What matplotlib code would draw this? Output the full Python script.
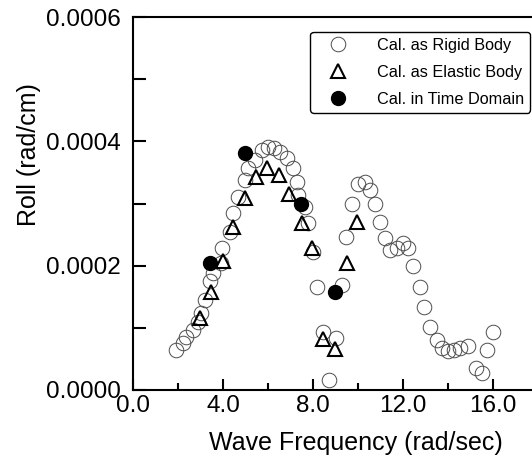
import numpy as np
import matplotlib.pyplot as plt
from matplotlib.ticker import MultipleLocator, FormatStrFormatter

plt.rcParams['font.family'] = ['Liberation Sans', 'DejaVu Sans']

# Cal. as Rigid Body (open circles)
rigid_x = [1.93, 2.22, 2.36, 2.67, 2.89, 3.03, 3.2, 3.4, 3.56, 3.9, 3.96, 4.31, 4.45,
           4.67, 4.98, 5.11, 5.42, 5.73, 6.0, 6.27, 6.53, 6.84, 7.11, 7.29, 7.33, 7.64,
           7.78, 8.0, 8.16, 8.46, 8.73, 9.0, 9.27, 9.47, 9.72, 10.01, 10.31, 10.53,
           10.76, 10.98, 11.2, 11.42, 11.72, 12.0, 12.22, 12.46, 12.73, 12.93, 13.2,
           13.5, 13.72, 14.01, 14.24, 14.53, 14.9, 15.24, 15.5, 15.72, 15.99]
rigid_y = [6.4e-5, 7.6e-5, 8.5e-5, 9.7e-5, 1.09e-4, 1.24e-4, 1.45e-4, 1.75e-4, 1.88e-4,
           2.04e-4, 2.28e-4, 2.54e-4, 2.85e-4, 3.11e-4, 3.38e-4, 3.57e-4, 3.70e-4,
           3.86e-4, 3.91e-4, 3.89e-4, 3.83e-4, 3.73e-4, 3.57e-4, 3.35e-4, 3.14e-4,
           2.94e-4, 2.69e-4, 2.22e-4, 1.65e-4, 9.4e-5, 1.6e-5, 8.3e-5, 1.69e-4, 2.46e-4,
           3.0e-4, 3.32e-4, 3.35e-4, 3.22e-4, 2.99e-4, 2.71e-4, 2.44e-4, 2.25e-4,
           2.28e-4, 2.36e-4, 2.28e-4, 2.0e-4, 1.65e-4, 1.33e-4, 1.02e-4, 8.0e-5,
           6.7e-5, 6.2e-5, 6.4e-5, 6.7e-5, 7.0e-5, 3.5e-5, 2.7e-5, 6.4e-5, 9.4e-5]

# Cal. as Elastic Body (open triangles)
elastic_x = [2.96, 3.45, 4.0, 4.45, 4.98, 5.47, 5.94, 6.49, 6.93, 7.5, 7.96, 8.46, 8.98,
             9.5, 9.96]
elastic_y = [1.15e-4, 1.58e-4, 2.07e-4, 2.62e-4, 3.09e-4, 3.43e-4, 3.57e-4, 3.46e-4,
             3.15e-4, 2.69e-4, 2.29e-4, 8.2e-5, 6.6e-5, 2.04e-4, 2.71e-4]

# Cal. in Time Domain (filled circles)
time_x = [3.44, 4.98, 7.47, 8.98]
time_y = [2.05e-4, 3.81e-4, 3.0e-4, 1.58e-4]

fig = plt.figure(figsize=(5.32, 4.62), dpi=100)
ax = fig.add_axes([0.25, 0.156, 0.77, 0.807])

ax.plot(rigid_x, rigid_y, 'o', ms=10.5, mfc='none', mec='0.3', mew=0.7,
        label='Cal. as Rigid Body')
ax.plot(elastic_x, elastic_y, '^', ms=9.5, mfc='none', mec='black', mew=1.5,
        label='Cal. as Elastic Body')
ax.plot(time_x, time_y, 'o', ms=10, mfc='black', mec='black',
        label='Cal. in Time Domain')

ax.set_xlim(0, 18.2)
ax.set_ylim(0, 0.0006)
ax.xaxis.set_major_locator(MultipleLocator(4))
ax.xaxis.set_minor_locator(MultipleLocator(2))
ax.yaxis.set_major_locator(MultipleLocator(0.0002))
ax.yaxis.set_minor_locator(MultipleLocator(0.0001))
ax.xaxis.set_major_formatter(FormatStrFormatter('%.1f'))
ax.yaxis.set_major_formatter(FormatStrFormatter('%.4f'))

ax.tick_params(axis='y', which='both', direction='in', length=9, width=1.5,
               labelsize=17.5, pad=9, right=False)
ax.tick_params(axis='x', which='major', direction='in', length=8, width=1.5,
               labelsize=17.5, pad=4, top=False)
ax.tick_params(axis='x', which='minor', direction='in', length=5, width=1.5,
               top=False)
for s in ax.spines.values():
    s.set_linewidth(1.5)

ax.set_xlabel('Wave Frequency (rad/sec)', fontsize=18)
ax.set_ylabel('Roll (rad/cm)', fontsize=18)
ax.xaxis.set_label_coords(0.543, -0.11)
ax.yaxis.set_label_coords(-0.225, 0.63)

leg = ax.legend(loc='upper right', bbox_to_anchor=(0.996, 0.931),
                bbox_transform=fig.transFigure, fontsize=11.7, frameon=True,
                fancybox=True, edgecolor='black', handletextpad=1.05,
                borderpad=0.35, labelspacing=0.75, handlelength=2.7,
                borderaxespad=0)
leg.get_frame().set_linewidth(1.0)
leg.get_frame().set_alpha(1)

fig.savefig('out.png', dpi=100)
